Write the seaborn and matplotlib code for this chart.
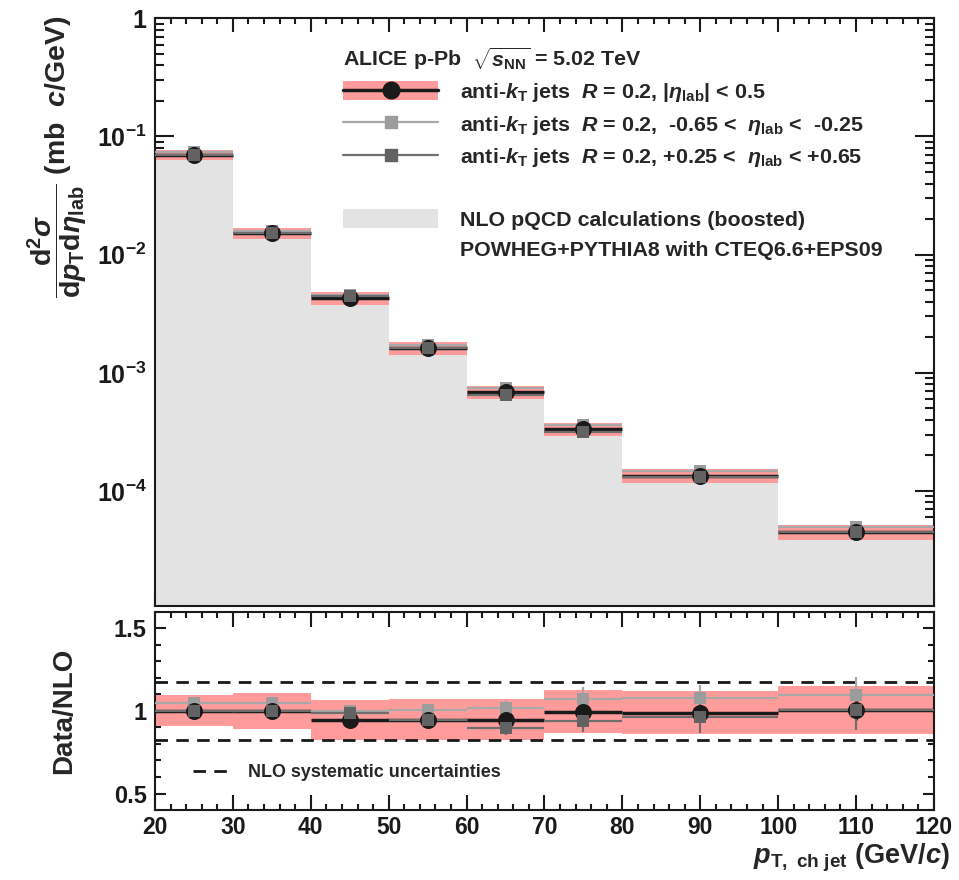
import numpy as np
import pandas as pd
import matplotlib
matplotlib.use("Agg")
import matplotlib.pyplot as plt
import seaborn as sns
from matplotlib.lines import Line2D
from matplotlib.patches import Patch
from matplotlib.ticker import FixedLocator, MultipleLocator, LogLocator, FuncFormatter, NullFormatter

# ---------------- data ----------------
bin_lo = [20, 30, 40, 50, 60, 70, 80, 100]
bin_hi = [30, 40, 50, 60, 70, 80, 100, 120]
pt_center = [25, 35, 45, 55, 65, 75, 90, 110]

xsec_mid = [0.070, 0.0152, 0.00428, 0.00162, 6.85e-4, 3.35e-4, 1.35e-4, 4.54e-5]
xsec_bwd = [0.0734, 0.0159, 0.00452, 0.00172, 7.38e-4, 3.60e-4, 1.47e-4, 4.94e-5]
xsec_fwd = [0.0700, 0.0152, 0.00445, 0.00162, 6.49e-4, 3.15e-4, 1.31e-4, 4.54e-5]
nlo_xsec = [0.070, 0.0152, 0.00452, 0.00171, 7.24e-4, 3.36e-4, 1.36e-4, 4.51e-5]

sys_mid = [0.093, 0.109, 0.128, 0.13, 0.13, 0.128, 0.133, 0.144]   # relative
stat_mid = [0.004, 0.006, 0.01, 0.015, 0.025, 0.04, 0.04, 0.06]      # relative
stat_bwd = [0.005, 0.008, 0.012, 0.02, 0.045, 0.066, 0.072, 0.097]
stat_fwd = [0.005, 0.008, 0.012, 0.02, 0.05, 0.07, 0.10, 0.12]

ratio_mid = [1.0, 1.0, 0.946, 0.946, 0.946, 0.996, 0.99, 1.006]
ratio_bwd = [1.048, 1.048, 1.0, 1.006, 1.02, 1.072, 1.078, 1.096]
ratio_fwd = [1.0, 1.0, 0.985, 0.946, 0.896, 0.936, 0.964, 1.006]
nlo_sys_lines = [0.825, 1.175]

ytick_vals = [1, 1e-1, 1e-2, 1e-3, 1e-4]
xtick_vals = [20, 30, 40, 50, 60, 70, 80, 90, 100, 110, 120]
rtick_vals = [0.5, 1.0, 1.5]

# ---------------- style ----------------
sns.set_theme(style="ticks")
plt.rcParams["font.family"] = ["Liberation Sans", "DejaVu Sans"]
plt.rcParams["font.weight"] = "bold"
plt.rcParams["mathtext.fontset"] = "custom"
plt.rcParams["mathtext.rm"] = "Liberation Sans:bold"
plt.rcParams["mathtext.it"] = "Liberation Sans:italic:bold"
plt.rcParams["mathtext.bf"] = "Liberation Sans:bold"
plt.rcParams["mathtext.sf"] = "Liberation Sans:bold"
plt.rcParams["axes.linewidth"] = 1.5

PINK = "#ff9b9b"
NLO_COL = "#e3e3e3"
LGRAY = "#9c9c9c"
DGRAY = "#626262"
LGRAY_LINE = "#a8a8a8"
DGRAY_LINE = "#6e6e6e"

fig = plt.figure(figsize=(9.59, 8.80), dpi=100)
ax = fig.add_axes([0.1616, 0.3117, 0.8123, 0.6675])
ax2 = fig.add_axes([0.1616, 0.0795, 0.8123, 0.2254])

widths = np.subtract(bin_hi, bin_lo)
edges = bin_lo + [bin_hi[-1]]
xm = np.array(xsec_mid)
xb = np.array(xsec_bwd)
xf = np.array(xsec_fwd)

# ---------------- upper panel ----------------
ax.set_yscale("log")
ax.stairs(nlo_xsec, edges, fill=True, baseline=1e-7, color=NLO_COL, zorder=1)
ax.bar(bin_lo, xm * 2 * np.array(sys_mid), bottom=xm * (1 - np.array(sys_mid)),
       width=widths, align="edge", color=PINK, lw=0, zorder=2)
ax.hlines(xm, bin_lo, bin_hi, color="k", lw=2.5, zorder=3)
ax.hlines(xb, bin_lo, bin_hi, color=LGRAY_LINE, lw=1.6, zorder=4)
ax.hlines(xf, bin_lo, bin_hi, color=DGRAY_LINE, lw=1.6, zorder=5)
ax.vlines(pt_center, xm * (1 - np.array(stat_mid)), xm * (1 + np.array(stat_mid)), color="k", lw=2, zorder=3)
ax.vlines(pt_center, xb * (1 - np.array(stat_bwd)), xb * (1 + np.array(stat_bwd)), color=LGRAY_LINE, lw=1.6, zorder=4)
ax.vlines(pt_center, xf * (1 - np.array(stat_fwd)), xf * (1 + np.array(stat_fwd)), color=DGRAY_LINE, lw=1.6, zorder=5)

sns.scatterplot(x=pt_center, y=xsec_bwd, marker="s", s=74, color=LGRAY, linewidth=0, ax=ax, zorder=6, legend=False)
sns.scatterplot(x=pt_center, y=xsec_mid, marker="o", s=150, color="k", linewidth=0, ax=ax, zorder=7, legend=False)
sns.scatterplot(x=pt_center, y=xsec_fwd, marker="s", s=74, color=DGRAY, linewidth=0, ax=ax, zorder=8, legend=False)

ax.set_xlim(20, 120)
ax.set_ylim(1.07e-5, 1.0)
ax.xaxis.set_major_locator(FixedLocator(xtick_vals))
ax.xaxis.set_minor_locator(MultipleLocator(2))
ax.xaxis.set_major_formatter(NullFormatter())
ax.yaxis.set_major_locator(FixedLocator(ytick_vals))
ax.yaxis.set_minor_locator(LogLocator(base=10, subs=np.arange(2, 10), numticks=20))
ax.yaxis.set_minor_formatter(NullFormatter())


def logfmt(v, pos):
    if abs(v - 1) < 1e-9:
        return "1"
    return r"$10^{%d}$" % int(round(np.log10(v)))


ax.yaxis.set_major_formatter(FuncFormatter(logfmt))
ax.tick_params(axis="both", which="both", direction="in", top=True, right=True, width=1.5, colors="k")
ax.tick_params(axis="y", which="major", length=13.5, pad=6, labelsize=18)
ax.tick_params(axis="y", which="minor", length=6.5)
ax.tick_params(axis="x", which="major", length=10)
ax.tick_params(axis="x", which="minor", length=4.5)
ax.set_xlabel("")
ax.set_ylabel(r"$\dfrac{\mathrm{d}^{2}\sigma}{\mathrm{d}p_{\mathrm{T}}\mathrm{d}\eta_{\mathrm{lab}}}$ (mb  $c$/GeV)",
              fontsize=20.5, fontweight="bold", loc="top")
ax.yaxis.set_label_coords(-0.083, 1.005)
for sp in ax.spines.values():
    sp.set_linewidth(1.5)
    sp.set_color("k")

# legend upper
h_mid = (Patch(facecolor=PINK, edgecolor="none"),
         Line2D([], [], color="k", lw=2.5, marker="o", ms=12, mfc="k", mec="k"))
h_bwd = Line2D([], [], color=LGRAY_LINE, lw=1.6, marker="s", ms=8.6, mfc=LGRAY, mec=LGRAY)
h_fwd = Line2D([], [], color=DGRAY_LINE, lw=1.6, marker="s", ms=8.6, mfc=DGRAY, mec=DGRAY)
h_blank = Line2D([], [], color="none")
h_nlo = Patch(facecolor=NLO_COL, edgecolor="none")
handles = [h_mid, h_bwd, h_fwd, h_blank, h_nlo, h_blank]
labels = [
    r"anti-$k_{\mathrm{T}}$ jets  $R$ = 0.2, $|\eta_{\mathrm{lab}}|$ < 0.5",
    r"anti-$k_{\mathrm{T}}$ jets  $R$ = 0.2,  -0.65 <  $\eta_{\mathrm{lab}}$ <  -0.25",
    r"anti-$k_{\mathrm{T}}$ jets  $R$ = 0.2, +0.25 <  $\eta_{\mathrm{lab}}$ < +0.65",
    " ",
    "NLO pQCD calculations (boosted)",
    "POWHEG+PYTHIA8 with CTEQ6.6+EPS09",
]
leg = ax.legend(handles, labels, loc="upper left", bbox_to_anchor=(0.2413, 0.955),
                frameon=False, fontsize=15.4, handlelength=4.45, handleheight=1.0,
                handletextpad=1.0, labelspacing=0.44, borderpad=0, borderaxespad=0,
                title=r"ALICE p-Pb  $\sqrt{s_{\mathrm{NN}}}$ = 5.02 TeV", title_fontsize=15.4,
                alignment="left")
leg.get_title().set_fontweight("bold")
for t in leg.get_texts():
    t.set_fontweight("bold")

# ---------------- lower panel ----------------
rm = np.array(ratio_mid)
rb = np.array(ratio_bwd)
rf = np.array(ratio_fwd)
ax2.bar(bin_lo, rm * 2 * np.array(sys_mid), bottom=rm * (1 - np.array(sys_mid)),
        width=widths, align="edge", color=PINK, lw=0, zorder=1)
for yv in nlo_sys_lines:
    ax2.axhline(yv, color="k", lw=2, ls=(0, (4.5, 3)), zorder=2)
ax2.hlines(rm, bin_lo, bin_hi, color="k", lw=2.5, zorder=3)
ax2.hlines(rb, bin_lo, bin_hi, color=LGRAY_LINE, lw=1.6, zorder=4)
ax2.hlines(rf, bin_lo, bin_hi, color=DGRAY_LINE, lw=1.6, zorder=5)
ax2.vlines(pt_center, rm * (1 - np.array(stat_mid)), rm * (1 + np.array(stat_mid)), color="k", lw=2, zorder=3)
ax2.vlines(pt_center, rb * (1 - np.array(stat_bwd)), rb * (1 + np.array(stat_bwd)), color=LGRAY_LINE, lw=1.6, zorder=4)
ax2.vlines(pt_center, rf * (1 - np.array(stat_fwd)), rf * (1 + np.array(stat_fwd)), color=DGRAY_LINE, lw=1.6, zorder=5)
sns.scatterplot(x=pt_center, y=ratio_bwd, marker="s", s=74, color=LGRAY, linewidth=0, ax=ax2, zorder=6, legend=False)
sns.scatterplot(x=pt_center, y=ratio_mid, marker="o", s=150, color="k", linewidth=0, ax=ax2, zorder=7, legend=False)
sns.scatterplot(x=pt_center, y=ratio_fwd, marker="s", s=74, color=DGRAY, linewidth=0, ax=ax2, zorder=8, legend=False)

ax2.set_xlim(20, 120)
ax2.set_ylim(0.4, 1.6)
ax2.xaxis.set_major_locator(FixedLocator(xtick_vals))
ax2.xaxis.set_minor_locator(MultipleLocator(2))
ax2.yaxis.set_major_locator(FixedLocator(rtick_vals))
ax2.yaxis.set_minor_locator(MultipleLocator(0.1))
ax2.yaxis.set_major_formatter(FuncFormatter(lambda v, p: "1" if abs(v - 1) < 1e-9 else "%.1f" % v))
ax2.tick_params(axis="both", which="both", direction="in", top=True, right=True, width=1.5, colors="k")
ax2.tick_params(axis="both", which="major", labelsize=17, pad=6)
ax2.tick_params(axis="x", which="major", length=10.5, pad=4, labelsize=16.5)
ax2.tick_params(axis="x", which="minor", length=4.5)
ax2.tick_params(axis="y", which="major", length=8)
ax2.tick_params(axis="y", which="minor", length=4.5)
ax2.set_ylabel("Data/NLO", fontsize=20, fontweight="bold")
ax2.yaxis.set_label_coords(-0.10, 0.5)
ax2.set_xlabel(r"$p_{\mathrm{T,\ ch\ jet}}$ (GeV/$c$)", fontsize=19.5, fontweight="bold", loc="right")
ax2.xaxis.set_label_coords(1.02, -0.162)
for sp in ax2.spines.values():
    sp.set_linewidth(1.5)
    sp.set_color("k")

h_dash = Line2D([], [], color="k", lw=2, ls=(0, (4.5, 3)))
leg2 = ax2.legend([h_dash], ["NLO systematic uncertainties"], loc="center left",
                  bbox_to_anchor=(0.049, 0.187), frameon=False, fontsize=12.9,
                  handlelength=2.3, handletextpad=0.75, borderpad=0, borderaxespad=0)
for t in leg2.get_texts():
    t.set_fontweight("bold")

fig.savefig("out.png", dpi=100)
